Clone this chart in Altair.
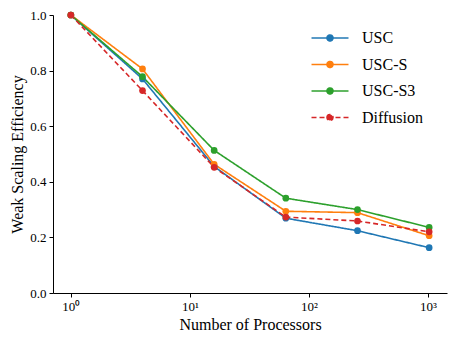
import altair as alt
import pandas as pd

processors = [1, 4, 16, 64, 256, 1024]
usc = [1.0, 0.77, 0.455, 0.269, 0.224, 0.163]
usc_s = [1.0, 0.806, 0.463, 0.294, 0.289, 0.206]
usc_s3 = [1.0, 0.778, 0.513, 0.341, 0.300, 0.236]
diffusion = [1.0, 0.728, 0.452, 0.273, 0.259, 0.220]

series = ["USC", "USC-S", "USC-S3", "Diffusion"]
colors = ["#1f77b4", "#ff7f0e", "#2ca02c", "#d62728"]
dashes = [[1, 0], [1, 0], [1, 0], [5, 3]]

rows = []
for name, vals in zip(series, [usc, usc_s, usc_s3, diffusion]):
    for p, v in zip(processors, vals):
        rows.append({"Processors": p, "Efficiency": v, "Method": name})
df = pd.DataFrame(rows)

FONT = "Liberation Serif"

xscale = alt.Scale(type="log", domain=[0.708, 1446], nice=False)
yscale = alt.Scale(domain=[0, 1.0], nice=False)

legend_symbol = "M-2,0H2M-0.33,0A0.33,0.33 0 1,1 0.33,0A0.33,0.33 0 1,1 -0.33,0Z"

legend = alt.Legend(
    title=None,
    orient="none",
    legendX=267,
    legendY=13,
    symbolType=legend_symbol,
    symbolSize=342,
    symbolStrokeWidth=1.5,
    labelFont=FONT,
    labelFontSize=16,
    labelColor="#000000",
    rowPadding=8.5,
    labelOffset=22,
)

x_enc = alt.X(
    "Processors:Q",
    scale=xscale,
    title="Number of Processors",
    axis=alt.Axis(
        values=[1, 10, 100, 1000],
        labelExpr="datum.value == 1 ? '10⁰' : datum.value == 10 ? '10¹' : datum.value == 100 ? '10²' : '10³'",
        labelFont=FONT,
    ),
)
y_enc = alt.Y(
    "Efficiency:Q",
    scale=yscale,
    title="Weak Scaling Efficiency",
    axis=alt.Axis(values=[0, 0.2, 0.4, 0.6, 0.8, 1.0], format=".1f", labelFont=FONT),
)

lines = alt.Chart(df).mark_line(strokeWidth=1.6).encode(
    x=x_enc,
    y=y_enc,
    stroke=alt.Stroke("Method:N", scale=alt.Scale(domain=series, range=colors), legend=legend),
    strokeDash=alt.StrokeDash("Method:N", scale=alt.Scale(domain=series, range=dashes), legend=legend),
)
points = alt.Chart(df).mark_circle(size=45, opacity=1).encode(
    x=x_enc,
    y=y_enc,
    fill=alt.Fill("Method:N", scale=alt.Scale(domain=series, range=colors), legend=legend),
)

chart = (
    alt.layer(lines, points)
    .properties(
        width=394,
        height=278,
        autosize=alt.AutoSizeParams(type="none"),
        padding={"left": 45, "top": 7, "right": 2, "bottom": 42},
    )
    .configure_view(stroke=None)
    .configure_legend(labelFont=FONT, labelFontSize=16, labelColor="#000000")
    .configure_axis(
        grid=False,
        domainColor="#000000",
        tickColor="#000000",
        labelColor="#000000",
        titleColor="#000000",
        labelFont=FONT,
        titleFont=FONT,
        labelFontSize=13,
        titleFontSize=16,
        titleFontWeight="normal",
        tickSize=4,
        domainWidth=1,
    )
    .configure_axisX(titlePadding=3, labelPadding=3)
    .configure_axisY(titlePadding=4, labelPadding=3)
)

chart.save("out.html", embed_options={"renderer": "svg", "actions": False})
